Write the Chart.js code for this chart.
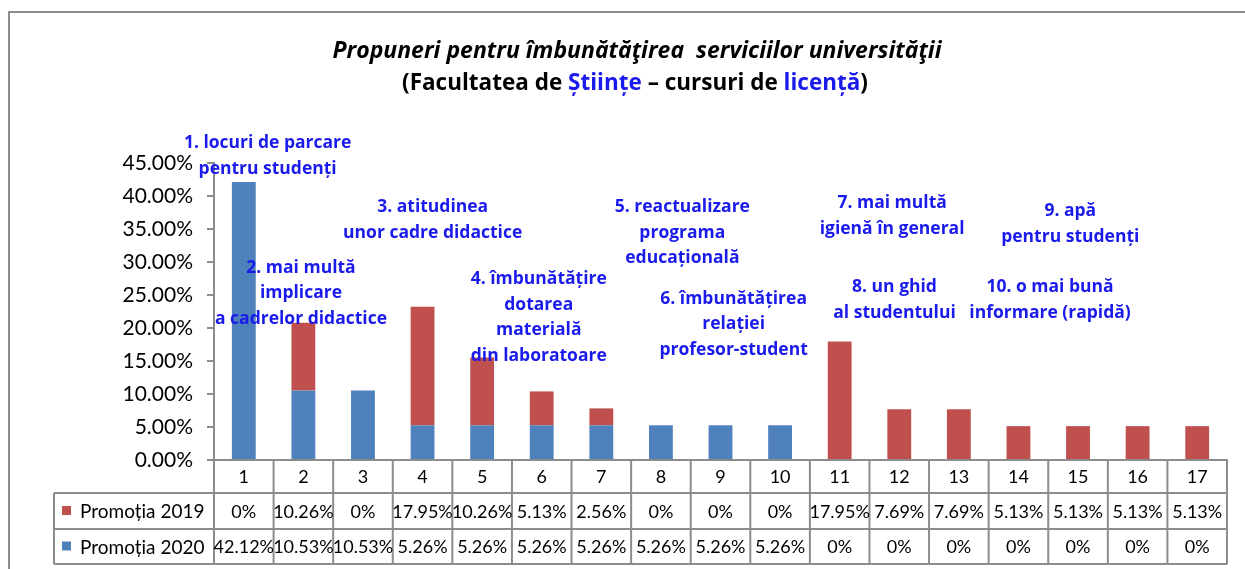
<!DOCTYPE html>
<html>
<head>
<meta charset="utf-8">
<script src="https://cdn.jsdelivr.net/npm/chart.js@4.4.1/dist/chart.umd.min.js"></script>
<style>
    html, body { margin: 0; padding: 0; background: #fff; }
    #wrap { width: 1245px; height: 569px; }
</style>
</head>
<body>
<div id="wrap"><canvas id="propuneriChart" width="1245" height="569"></canvas></div>
<script>
// Date
const categorii = ['1', '2', '3', '4', '5', '6', '7', '8', '9', '10', '11', '12', '13', '14', '15', '16', '17'];
const promotia2019 = [0, 10.26, 0, 17.95, 10.26, 5.13, 2.56, 0, 0, 0, 17.95, 7.69, 7.69, 5.13, 5.13, 5.13, 5.13];
const promotia2020 = [42.12, 10.53, 10.53, 5.26, 5.26, 5.26, 5.26, 5.26, 5.26, 5.26, 0, 0, 0, 0, 0, 0, 0];
const etichete2019 = ['0%', '10.26%', '0%', '17.95%', '10.26%', '5.13%', '2.56%', '0%', '0%', '0%', '17.95%', '7.69%', '7.69%', '5.13%', '5.13%', '5.13%', '5.13%'];
const etichete2020 = ['42.12%', '10.53%', '10.53%', '5.26%', '5.26%', '5.26%', '5.26%', '5.26%', '5.26%', '5.26%', '0%', '0%', '0%', '0%', '0%', '0%', '0%'];
const yTicks = [0, 5, 10, 15, 20, 25, 30, 35, 40, 45];

// Propunerile (text albastru) - pozitia in unitati de categorie / procent
const propuneri = [
    { linii: ['1. locuri de parcare', 'pentru studenți'], x: 0.40, y: 48.0 },
    { linii: ['2. mai multă', 'implicare', 'a cadrelor didactice'], x: 0.96, y: 29.1 },
    { linii: ['3. atitudinea', 'unor cadre didactice'], x: 3.17, y: 38.3 },
    { linii: ['4. îmbunătățire', 'dotarea', 'materială', 'din laboratoare'], x: 4.95, y: 27.4 },
    { linii: ['5. reactualizare', 'programa', 'educațională'], x: 7.36, y: 38.3 },
    { linii: ['6. îmbunătățirea', 'relației', 'profesor-student'], x: 8.22, y: 24.4 },
    { linii: ['7. mai multă', 'igienă în general'], x: 10.88, y: 38.9 },
    { linii: ['8. un ghid', 'al studentului'], x: 10.92, y: 26.2 },
    { linii: ['9. apă', 'pentru studenți'], x: 13.87, y: 37.7 },
    { linii: ['10. o mai bună', 'informare (rapidă)'], x: 13.53, y: 26.2 }
];

const FONT = 'Lato, "Open Sans", sans-serif';
const FONT_LAT = '"Open Sans", Lato, sans-serif';
const ALBASTRU = '#1a1aeb';
const GRI = '#8c8c8c';

const desenPlugin = {
    id: 'desenPlugin',
    afterDraw(chart) {
        const ctx = chart.ctx;
        const area = chart.chartArea;
        const xs = chart.scales.x;
        const ys = chart.scales.y;
        ctx.save();

        // chenarul exterior
        ctx.strokeStyle = GRI;
        ctx.lineWidth = 2;
        ctx.beginPath();
        ctx.moveTo(9, 569);
        ctx.lineTo(9, 12);
        ctx.lineTo(1245, 12);
        ctx.stroke();

        // titlu
        ctx.textAlign = 'center';
        ctx.textBaseline = 'middle';
        ctx.fillStyle = '#000';
        ctx.font = 'italic bold 23px ' + FONT_LAT;
        ctx.fillText('Propuneri pentru îmbunătăţirea  serviciilor universităţii', 637, 51);

        const parti = [
            ['(Facultatea de ', '#000'],
            ['Științe', ALBASTRU],
            [' – cursuri de ', '#000'],
            ['licență', ALBASTRU],
            [')', '#000']
        ];
        ctx.font = 'bold 22.5px ' + FONT_LAT;
        let total = 0;
        parti.forEach(p => { total += ctx.measureText(p[0]).width; });
        let px = 635 - total / 2;
        ctx.textAlign = 'left';
        parti.forEach(p => {
            ctx.fillStyle = p[1];
            ctx.fillText(p[0], px, 84);
            px += ctx.measureText(p[0]).width;
        });

        // propunerile
        ctx.textAlign = 'center';
        ctx.fillStyle = ALBASTRU;
        ctx.font = 'bold 17.5px ' + FONT_LAT;
        propuneri.forEach(p => {
            const cx = xs.getPixelForValue(p.x);
            const cy = ys.getPixelForValue(p.y);
            p.linii.forEach((l, i) => {
                ctx.fillText(l, cx, cy + i * 25.5);
            });
        });

        // tabelul de date
        const lat = (area.right - area.left) / categorii.length;
        const randuri = [area.bottom, area.bottom + 33, area.bottom + 69, area.bottom + 104];
        const stanga = 54;
        ctx.strokeStyle = GRI;
        ctx.lineWidth = 2;
        ctx.beginPath();
        for (let r = 1; r < randuri.length; r++) {
            ctx.moveTo(stanga, randuri[r]);
            ctx.lineTo(area.right, randuri[r]);
        }
        ctx.moveTo(stanga, randuri[1]);
        ctx.lineTo(stanga, randuri[3]);
        for (let k = 0; k <= categorii.length; k++) {
            const x = area.left + k * lat;
            ctx.moveTo(x, randuri[0]);
            ctx.lineTo(x, randuri[3]);
        }
        ctx.stroke();

        ctx.fillStyle = '#000';
        ctx.font = '18px ' + FONT;
        ctx.textAlign = 'center';
        categorii.forEach((c, i) => {
            const cx = xs.getPixelForValue(i);
            ctx.fillText(c, cx, (randuri[0] + randuri[1]) / 2 + 1);
            ctx.fillText(etichete2019[i], cx, (randuri[1] + randuri[2]) / 2 + 1);
            ctx.fillText(etichete2020[i], cx, (randuri[2] + randuri[3]) / 2 + 1);
        });

        // legenda din tabel
        ctx.textAlign = 'left';
        ctx.font = '19px ' + FONT;
        const seriiLegenda = [
            [chart.data.datasets[1], (randuri[1] + randuri[2]) / 2],
            [chart.data.datasets[0], (randuri[2] + randuri[3]) / 2]
        ];
        seriiLegenda.forEach(([ds, y]) => {
            ctx.fillStyle = ds.backgroundColor;
            ctx.fillRect(62, y - 5, 9, 9);
            ctx.fillStyle = '#000';
            ctx.fillText(ds.label, 80, y + 1);
        });

        ctx.restore();
    }
};

new Chart(document.getElementById('propuneriChart'), {
    type: 'bar',
    data: {
        labels: categorii,
        datasets: [
            {
                label: 'Promoția 2020',
                data: promotia2020,
                backgroundColor: '#4F81BD',
                barPercentage: 0.4,
                categoryPercentage: 1
            },
            {
                label: 'Promoția 2019',
                data: promotia2019,
                backgroundColor: '#C0504D',
                barPercentage: 0.4,
                categoryPercentage: 1
            }
        ]
    },
    options: {
        responsive: false,
        animation: false,
        layout: {
            padding: { left: 0, right: 18, top: 163, bottom: 109 }
        },
        plugins: {
            legend: { display: false },
            title: { display: false },
            tooltip: { enabled: false }
        },
        scales: {
            x: {
                stacked: true,
                grid: { display: false },
                ticks: { display: false },
                border: { color: GRI, width: 2 },
                afterFit: scale => { scale.height = 0; }
            },
            y: {
                stacked: true,
                min: 0,
                max: 45,
                afterBuildTicks: scale => {
                    scale.ticks = yTicks.map(v => ({ value: v }));
                },
                ticks: {
                    color: '#000',
                    padding: 14,
                    font: { family: FONT, size: 21 },
                    callback: v => v.toFixed(2) + '%'
                },
                grid: {
                    drawOnChartArea: false,
                    color: GRI,
                    lineWidth: 2,
                    tickLength: 7
                },
                border: { color: GRI, width: 2 },
                afterFit: scale => { scale.width = 214; }
            }
        }
    },
    plugins: [desenPlugin]
});
</script>
</body>
</html>
